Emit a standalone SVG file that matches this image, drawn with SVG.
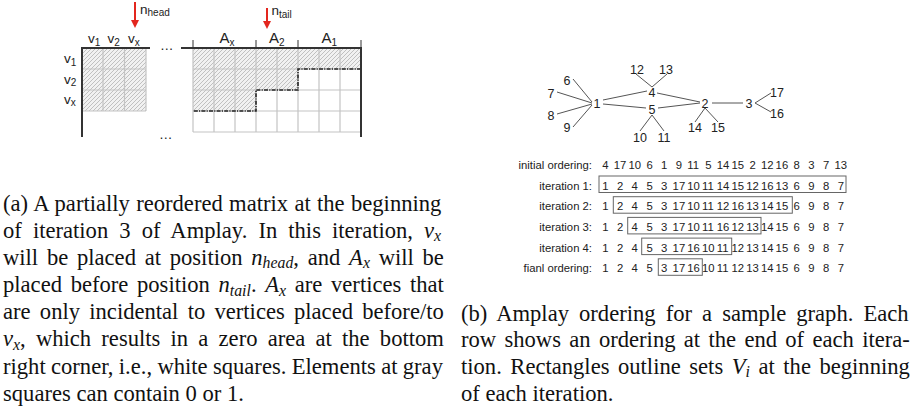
<svg xmlns="http://www.w3.org/2000/svg" width="919" height="410" viewBox="0 0 919 410">
<defs>
<pattern id="hatch" patternUnits="userSpaceOnUse" width="4" height="4">
<rect width="4" height="4" fill="#f1f1f1"/>
<path d="M-1,1 l2,-2 M0,4 l4,-4 M3,5 l2,-2" stroke="#a0a0a0" stroke-width="0.6"/>
</pattern>
</defs>
<style>
.lab{font-family:"Liberation Sans",Arial,sans-serif;fill:#222}
.ml{font-size:13.5px}
.al{font-size:15px}
.sub{font-size:10px}
.node{font-family:"Liberation Sans",Arial,sans-serif;font-size:12.5px;fill:#222;text-anchor:middle}
.edge line{stroke:#555;stroke-width:1}
.seq{font-family:"Liberation Sans",Arial,sans-serif;font-size:11.3px;fill:#222}
.rowlab{font-family:"Liberation Sans",Arial,sans-serif;font-size:11.3px;fill:#222;text-anchor:end}
.box{fill:none;stroke:#666;stroke-width:1}
.cap{font-family:"Liberation Serif","Times New Roman",serif;font-size:22.6px;fill:#111}
.it{font-style:italic}
.cs{font-style:italic;font-size:15.8px}
.grid{stroke:#c4c4c4;stroke-width:1.2;fill:none}
.axis{stroke:#333;stroke-width:2;fill:none}
.tick{stroke:#333;stroke-width:1;fill:none}
.red{stroke:#e3261e;stroke-width:2}
.redh{fill:#e3261e}
</style>

<!-- (a) matrix -->
<g id="matrix">
<rect x="82" y="48" width="64" height="63" fill="url(#hatch)"/>
<path d="M193,48 H361 V69 H298 V90 H256 V111 H193 Z" fill="url(#hatch)"/>
<path class="grid" d="M103,48 V111 M124.5,48 V111 M146,48 V111 M82,69 H146 M82,90 H146 M82,111 H146"/>
<path class="grid" d="M193,48 V132 M214,48 V132 M235,48 V132 M256,48 V132 M277,48 V132 M298,48 V132 M319,48 V132 M340,48 V132 M193,69 H361 M193,90 H361 M193,111 H361 M193,132 H361"/>
<path d="M361,69 H298 V90 H256 V111 H193" fill="none" stroke="#222" stroke-width="1.6" stroke-dasharray="4,1.2,1.2,1.2"/>
<path class="axis" d="M82,137 V48 H150"/>
<path class="axis" d="M181,48 H361 V137"/>
<path class="tick" d="M193,40 V48 M256,40 V48 M298,40 V48 M361,40 V48"/>
<text class="lab ml" x="160" y="49.5">…</text>
<text class="lab ml" x="159" y="139">…</text>
<text class="lab ml" x="88" y="43">v<tspan class="sub" dy="2.5">1</tspan></text>
<text class="lab ml" x="107.5" y="43">v<tspan class="sub" dy="2.5">2</tspan></text>
<text class="lab ml" x="128" y="43">v<tspan class="sub" dy="2.5">x</tspan></text>
<text class="lab ml" x="64" y="63">v<tspan class="sub" dy="2.5">1</tspan></text>
<text class="lab ml" x="64" y="83.5">v<tspan class="sub" dy="2.5">2</tspan></text>
<text class="lab ml" x="64" y="103.5">v<tspan class="sub" dy="2.5">x</tspan></text>
<text class="lab al" x="219.5" y="43">A<tspan class="sub" dy="2.5">x</tspan></text>
<text class="lab al" x="269" y="43">A<tspan class="sub" dy="2.5">2</tspan></text>
<text class="lab al" x="321.5" y="43">A<tspan class="sub" dy="2.5">1</tspan></text>
<line class="red" x1="135" y1="2" x2="135" y2="21"/>
<polygon class="redh" points="131,20 139,20 135,28"/>
<text class="lab ml" x="140" y="13.5">n<tspan class="sub" dy="2.5">head</tspan></text>
<line class="red" x1="267" y1="8" x2="267" y2="22"/>
<polygon class="redh" points="263,21 271,21 267,29"/>
<text class="lab ml" x="271.5" y="15">n<tspan class="sub" dy="3">tail</tspan></text>
</g>

<!-- (b) graph -->
<g id="connectors" class="edge">
<line x1="573" y1="79" x2="592" y2="102"/>
<line x1="557" y1="92" x2="592" y2="103"/>
<line x1="557" y1="114" x2="592" y2="104"/>
<line x1="573" y1="127" x2="592" y2="105"/>
<line x1="603" y1="100" x2="647" y2="91"/>
<line x1="603" y1="104" x2="646" y2="108"/>
<line x1="657" y1="93" x2="700" y2="102"/>
<line x1="658" y1="108" x2="700" y2="103"/>
<line x1="636" y1="74" x2="652" y2="87"/>
<line x1="667" y1="74" x2="652" y2="87"/>
<line x1="652" y1="115" x2="640" y2="131"/>
<line x1="652" y1="115" x2="664" y2="131"/>
<line x1="705" y1="108" x2="695" y2="122"/>
<line x1="705" y1="108" x2="718" y2="122"/>
<line x1="712" y1="103" x2="743" y2="103"/>
<line x1="755" y1="103" x2="771" y2="93"/>
<line x1="755" y1="103" x2="771" y2="112"/>
</g>
<g id="n1"><text class="node" x="597" y="107.5">1</text></g>
<g id="n2"><text class="node" x="705" y="107.5">2</text></g>
<g id="n3"><text class="node" x="749" y="107.5">3</text></g>
<g id="n4"><text class="node" x="652" y="96.5">4</text></g>
<g id="n5"><text class="node" x="652" y="113.5">5</text></g>
<g id="n6"><text class="node" x="567" y="84.5">6</text></g>
<g id="n7"><text class="node" x="551" y="97.5">7</text></g>
<g id="n8"><text class="node" x="551" y="119.5">8</text></g>
<g id="n9"><text class="node" x="567" y="131.5">9</text></g>
<g id="n10"><text class="node" x="640" y="141.5">10</text></g>
<g id="n11"><text class="node" x="664" y="141.5">11</text></g>
<g id="n12"><text class="node" x="637" y="73.5">12</text></g>
<g id="n13"><text class="node" x="666" y="73.5">13</text></g>
<g id="n14"><text class="node" x="695" y="131.5">14</text></g>
<g id="n15"><text class="node" x="718" y="131.5">15</text></g>
<g id="n16"><text class="node" x="777" y="117.5">16</text></g>
<g id="n17"><text class="node" x="777" y="96.5">17</text></g>

<!-- ordering table -->
<g id="table">
<text class="rowlab" x="592" y="168.8">initial ordering:</text>
<text class="rowlab" x="592" y="189.5">iteration 1:</text>
<text class="rowlab" x="592" y="210.2">iteration 2:</text>
<text class="rowlab" x="592" y="230.9">iteration 3:</text>
<text class="rowlab" x="592" y="251.6">iteration 4:</text>
<text class="rowlab" x="592" y="272.3">fianl ordering:</text>
<text class="seq" y="168.8"><tspan x="602.2">4 </tspan><tspan x="613.7">17 </tspan><tspan x="628.4">10 </tspan><tspan x="646.4">6 </tspan><tspan x="661.1">1 </tspan><tspan x="675.8">9 </tspan><tspan x="687.3">11 </tspan><tspan x="705.2">5 </tspan><tspan x="716.8">14 </tspan><tspan x="731.5">15 </tspan><tspan x="749.4">2 </tspan><tspan x="760.9">12 </tspan><tspan x="775.6">16 </tspan><tspan x="793.6">8 </tspan><tspan x="808.3">3 </tspan><tspan x="823">7 </tspan><tspan x="834.5">13</tspan></text>
<text class="seq" y="189.5"><tspan x="602.2">1 </tspan><tspan x="616.9">2 </tspan><tspan x="631.6">4 </tspan><tspan x="646.4">5 </tspan><tspan x="661.1">3 </tspan><tspan x="672.6">17 </tspan><tspan x="687.3">10 </tspan><tspan x="702">11 </tspan><tspan x="716.8">14 </tspan><tspan x="731.5">15 </tspan><tspan x="746.2">12 </tspan><tspan x="760.9">16 </tspan><tspan x="775.6">13 </tspan><tspan x="793.6">6 </tspan><tspan x="808.3">9 </tspan><tspan x="823">8 </tspan><tspan x="837.7">7</tspan></text>
<text class="seq" y="210.2"><tspan x="602.2">1 </tspan><tspan x="616.9">2 </tspan><tspan x="631.6">4 </tspan><tspan x="646.4">5 </tspan><tspan x="661.1">3 </tspan><tspan x="672.6">17 </tspan><tspan x="687.3">10 </tspan><tspan x="702">11 </tspan><tspan x="716.8">12 </tspan><tspan x="731.5">16 </tspan><tspan x="746.2">13 </tspan><tspan x="760.9">14 </tspan><tspan x="775.6">15 </tspan><tspan x="793.6">6 </tspan><tspan x="808.3">9 </tspan><tspan x="823">8 </tspan><tspan x="837.7">7</tspan></text>
<text class="seq" y="230.9"><tspan x="602.2">1 </tspan><tspan x="616.9">2 </tspan><tspan x="631.6">4 </tspan><tspan x="646.4">5 </tspan><tspan x="661.1">3 </tspan><tspan x="672.6">17 </tspan><tspan x="687.3">10 </tspan><tspan x="702">11 </tspan><tspan x="716.8">16 </tspan><tspan x="731.5">12 </tspan><tspan x="746.2">13 </tspan><tspan x="760.9">14 </tspan><tspan x="775.6">15 </tspan><tspan x="793.6">6 </tspan><tspan x="808.3">9 </tspan><tspan x="823">8 </tspan><tspan x="837.7">7</tspan></text>
<text class="seq" y="251.6"><tspan x="602.2">1 </tspan><tspan x="616.9">2 </tspan><tspan x="631.6">4 </tspan><tspan x="646.4">5 </tspan><tspan x="661.1">3 </tspan><tspan x="672.6">17 </tspan><tspan x="687.3">16 </tspan><tspan x="702">10 </tspan><tspan x="716.8">11 </tspan><tspan x="731.5">12 </tspan><tspan x="746.2">13 </tspan><tspan x="760.9">14 </tspan><tspan x="775.6">15 </tspan><tspan x="793.6">6 </tspan><tspan x="808.3">9 </tspan><tspan x="823">8 </tspan><tspan x="837.7">7</tspan></text>
<text class="seq" y="272.3"><tspan x="602.2">1 </tspan><tspan x="616.9">2 </tspan><tspan x="631.6">4 </tspan><tspan x="646.4">5 </tspan><tspan x="661.1">3 </tspan><tspan x="672.6">17 </tspan><tspan x="687.3">16 </tspan><tspan x="702">10 </tspan><tspan x="716.8">11 </tspan><tspan x="731.5">12 </tspan><tspan x="746.2">13 </tspan><tspan x="760.9">14 </tspan><tspan x="775.6">15 </tspan><tspan x="793.6">6 </tspan><tspan x="808.3">9 </tspan><tspan x="823">8 </tspan><tspan x="837.7">7</tspan></text>
<rect class="box" x="599" y="176" width="247" height="16.5"/>
<rect class="box" x="613.3" y="196.7" width="179" height="16.5"/>
<rect class="box" x="627.7" y="217.4" width="133.3" height="16.5"/>
<rect class="box" x="641.7" y="238.1" width="90" height="16.5"/>
<rect class="box" x="658.3" y="258.8" width="44" height="16.5"/>
</g>

<!-- captions -->
<g id="caption-a">
<text class="cap" x="3" y="210.7" word-spacing="0.69">(a) A partially reordered matrix at the beginning</text>
<text class="cap" x="3" y="237.8" word-spacing="5.44">of iteration 3 of Amplay. In this iteration, <tspan class="it">v</tspan><tspan class="cs" dy="3.4">x</tspan></text>
<text class="cap" x="3" y="265" word-spacing="3.1">will be placed at position <tspan class="it">n</tspan><tspan class="cs" dy="3.4">head</tspan><tspan dy="-3.4">, and </tspan><tspan class="it">A</tspan><tspan class="cs" dy="3.4">x</tspan><tspan dy="-3.4"> will be</tspan></text>
<text class="cap" x="3" y="292.1" word-spacing="3.04">placed before position <tspan class="it">n</tspan><tspan class="cs" dy="3.4">tail</tspan><tspan dy="-3.4">. </tspan><tspan class="it">A</tspan><tspan class="cs" dy="3.4">x</tspan><tspan dy="-3.4"> are vertices that</tspan></text>
<text class="cap" x="3" y="319.3" word-spacing="3.62">are only incidental to vertices placed before/to</text>
<text class="cap" x="3" y="346.4" word-spacing="4.57"><tspan class="it">v</tspan><tspan class="cs" dy="3.4">x</tspan><tspan dy="-3.4">, which results in a zero area at the bottom</tspan></text>
<text class="cap" x="3" y="373.5" word-spacing="-0.3">right corner, i.e., white squares. Elements at gray</text>
<text class="cap" x="3" y="400.7">squares can contain 0 or 1.</text>
</g>
<g id="caption-b">
<text class="cap" x="461" y="320.7" word-spacing="4.43">(b) Amplay ordering for a sample graph. Each</text>
<text class="cap" x="461" y="347.3" word-spacing="2.68">row shows an ordering at the end of each itera-</text>
<text class="cap" x="461" y="374" word-spacing="2.89">tion. Rectangles outline sets <tspan class="it">V</tspan><tspan class="cs" dy="3.4">i</tspan><tspan dy="-3.4"> at the beginning</tspan></text>
<text class="cap" x="461" y="400.7">of each iteration.</text>
</g>
</svg>
